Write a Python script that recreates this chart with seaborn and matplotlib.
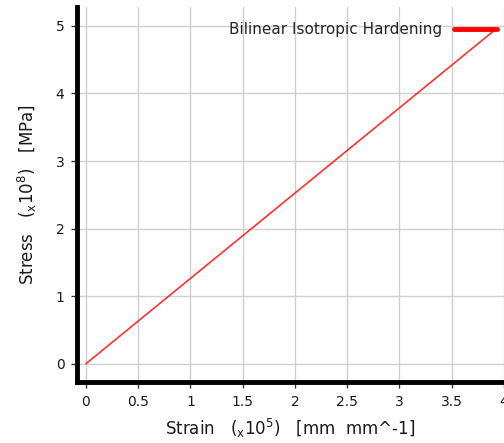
import matplotlib
matplotlib.use("Agg")
import matplotlib.pyplot as plt
import seaborn as sns
import pandas as pd

strain = [0.0, 3.92]
stress = [0.0, 4.95]
series_name = "Bilinear Isotropic Hardening"
x_ticks = [0, 0.5, 1, 1.5, 2, 2.5, 3, 3.5, 4]
x_tick_labels = ["0", "0.5", "1", "1.5", "2", "2.5", "3", "3.5", "4"]
y_ticks = [0, 1, 2, 3, 4, 5]

df = pd.DataFrame({"strain": strain, "stress": stress, "series": series_name})

sns.set_style("white")
plt.rcParams['font.family'] = ['DejaVu Sans']

fig = plt.figure(figsize=(5.04, 4.43), dpi=100)
ax = fig.add_axes([77/504, 61/443, 1 - 77/504, (382-7)/443])

sns.lineplot(data=df, x="strain", y="stress", hue="series", palette=["#ff3030"],
             linewidth=1.2, ax=ax, legend=False)

ax.set_xlim(-0.085, 3.96)
ax.set_ylim(-0.27, 5.28)
ax.set_xticks(x_ticks)
ax.set_xticklabels(x_tick_labels)
ax.set_yticks(y_ticks)
ax.grid(True, color="#d0d0d0", linewidth=1.0)
ax.set_axisbelow(True)

for s in ["top", "right"]:
    ax.spines[s].set_visible(False)
for s in ["left", "bottom"]:
    ax.spines[s].set_linewidth(3.5)
    ax.spines[s].set_color("black")

ax.tick_params(axis="both", direction="out", length=4, width=1, color="#333333",
               labelsize=10, labelcolor="#1a1a1a", pad=5, left=True, bottom=True)

ax.set_xlabel(r"Strain   ($_{\mathrm{x}}$10$^{5}$)   [mm  mm^-1]", fontsize=12, color="#1a1a1a", labelpad=6)
ax.set_ylabel(r"Stress   ($_{\mathrm{x}}$10$^{8}$)   [MPa]", fontsize=12, color="#1a1a1a", labelpad=12)

from matplotlib.lines import Line2D
h = Line2D([0], [0], color="#ff0000", linewidth=3.5)
ax.legend([h], [series_name], loc="center right", bbox_to_anchor=(0.984, 0.939),
          frameon=False, markerfirst=False, fontsize=11, handlelength=2.8,
          handletextpad=0.8, borderpad=0, borderaxespad=0)

fig.savefig("out.png", dpi=100)
